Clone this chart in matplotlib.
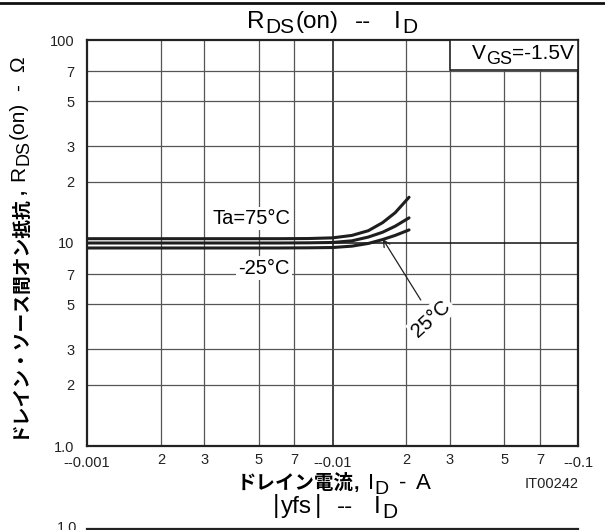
import matplotlib
matplotlib.use("Agg")
import matplotlib.pyplot as plt
from matplotlib.lines import Line2D
from matplotlib.patches import Rectangle
from matplotlib.ticker import FixedLocator, FixedFormatter

plt.rcParams['font.family'] = ['Liberation Sans', 'Noto Sans CJK JP', 'DejaVu Sans']

# ---- data ----
id_a = [0.001, 0.002, 0.004, 0.006, 0.008, 0.010, 0.012, 0.014, 0.016, 0.018, 0.0205]
r_75 = [10.5, 10.5, 10.5, 10.5, 10.52, 10.6, 10.9, 11.5, 12.6, 14.1, 16.8]
r_25 = [10.0, 10.0, 10.0, 10.0, 10.02, 10.06, 10.25, 10.7, 11.3, 12.1, 13.3]
r_m25 = [9.45, 9.45, 9.45, 9.45, 9.47, 9.5, 9.65, 9.95, 10.4, 10.9, 11.6]

x_major = [0.001, 0.01, 0.1]
x_major_labels = ['--0.001', '--0.01', '--0.1']
x_minor = [0.002, 0.003, 0.005, 0.007, 0.02, 0.03, 0.05, 0.07]
x_minor_labels = ['2', '3', '5', '7', '2', '3', '5', '7']
y_major = [1, 10, 100]
y_major_labels = ['1.0', '10', '100']
y_minor = [2, 3, 5, 7, 20, 30, 50, 70]
y_minor_labels = ['2', '3', '5', '7', '2', '3', '5', '7']

W, H = 605, 530
fig = plt.figure(figsize=(W / 100, H / 100), dpi=100)
L, R, T, B = 87, 578, 40, 446
ax = fig.add_axes([L / W, 1 - B / H, (R - L) / W, (B - T) / H])
ax.set_xscale('log')
ax.set_yscale('log')
ax.set_xlim(0.001, 0.1)
ax.set_ylim(1, 100)

ax.xaxis.set_major_locator(FixedLocator(x_major))
ax.xaxis.set_major_formatter(FixedFormatter(x_major_labels))
ax.xaxis.set_minor_locator(FixedLocator(x_minor))
ax.xaxis.set_minor_formatter(FixedFormatter(x_minor_labels))
ax.yaxis.set_major_locator(FixedLocator(y_major))
ax.yaxis.set_major_formatter(FixedFormatter(y_major_labels))
ax.yaxis.set_minor_locator(FixedLocator(y_minor))
ax.yaxis.set_minor_formatter(FixedFormatter(y_minor_labels))

ax.tick_params(which='both', length=0, labelsize=10.5, colors='#222222')
ax.tick_params(axis='x', which='major', pad=7)
ax.tick_params(axis='x', which='minor', pad=5)
ax.tick_params(axis='y', which='both', pad=9)

ax.grid(which='major', color='#111111', lw=1.1)
ax.grid(which='minor', color='#555555', lw=0.9)
ax.set_axisbelow(True)
for s in ax.spines.values():
    s.set_linewidth(1.6)
    s.set_color('#222222')

lc = '#1e1e1e'
for rv in (r_75, r_25, r_m25):
    ax.plot(id_a, rv, color=lc, lw=2.2, solid_capstyle='round', zorder=3)

bb = dict(boxstyle='square,pad=0.12', fc='white', ec='none')
ax.text(0.00466, 13.2, 'Ta=75°C', fontsize=14.5, ha='center', va='center', bbox=bb, zorder=4)
ax.text(0.00525, 7.5, '-25°C', fontsize=14.5, ha='center', va='center', bbox=bb, zorder=4)
ax.annotate('', xy=(0.0158, 10.75), xytext=(0.0232, 5.1),
            arrowprops=dict(arrowstyle='->', lw=0.9, color='#222222', mutation_scale=12), zorder=4)
ax.text(0.0253, 4.25, '25°C', fontsize=14.5, ha='center', va='center', rotation=42,
        bbox=bb, zorder=4)

fig.canvas.draw()
rend = fig.canvas.get_renderer()
JP = ['Noto Sans CJK JP', 'Liberation Sans']


def rich(x, y, pieces, align='center', rot=0, z=5):
    """pieces: (text, size, bold, jp, dy_px, gap_px). x,y in pixels from top-left; y = baseline."""
    arts = []
    lengths = []
    for (s, size, bold, jp, dy, gap) in pieces:
        kw = dict(fontsize=size, fontweight='bold' if bold else 'normal')
        if jp:
            kw['family'] = JP
        t = fig.text(0, 0, s, ha='left', va='baseline', rotation=rot,
                     rotation_mode='anchor', zorder=z, **kw)
        ext = t.get_window_extent(rend)
        lengths.append(ext.width if rot == 0 else ext.height)
        arts.append(t)
    total = sum(lengths) + sum(p[5] for p in pieces)
    if align == 'center':
        start = -total / 2
    elif align == 'right':
        start = -total
    else:
        start = 0
    cur = start
    for t, ln, p in zip(arts, lengths, pieces):
        cur += p[5]
        if rot == 0:
            t.set_position(((x + cur) / W, 1 - (y + p[4]) / H))
        else:
            t.set_position(((x + p[4]) / W, 1 - (y - cur) / H))
        cur += ln
    return total


# title
rich(332, 28, [('R', 17.5, False, False, 0, 0), ('DS', 15, False, False, 5, 1),
               ('(on)', 17.5, False, False, 0, 1), ('--', 17.5, False, False, 0, 16),
               ('I', 17.5, False, False, 0, 23), ('D', 15, False, False, 5, 1)])

# VGS box
box_l = 450
ax.add_patch(Rectangle(((box_l - L) / (R - L), (B - 70) / (B - T)), (R - box_l) / (R - L),
                       (70 - T) / (B - T), transform=ax.transAxes,
                       fc='white', ec='#222222', lw=1.2, zorder=4, clip_on=False))
rich(574, 59, [('V', 15, False, False, 0, 0), ('GS', 13, False, False, 5, 0),
               ('=-1.5V', 15, False, False, 0, 0)], align='right', z=6)

# x label
rich(334, 489, [('ドレイン電流', 14, True, True, 0, 0), (',', 14, True, False, 0, 0),
                ('I', 16, False, False, 0, 8), ('D', 14, False, False, 5, 1),
                ('-', 16, False, False, 0, 10), ('A', 16, False, False, 0, 10)])
fig.text(552 / W, 1 - 484 / H, 'IT00242', fontsize=10.5, ha='center', va='center', color='#222222')

# y label (rotated)
rich(24, 247, [('ドレイン・ソース間オン抵抗', 13.5, True, True, 0, 0), (',', 13.5, True, False, 0, 0),
               ('R', 15, False, False, 0, 8), ('DS', 13, False, False, 4, 1),
               ('(on)', 15, False, False, 0, 1), ('-', 15, False, False, 0, 11),
               ('Ω', 15, False, False, 0, 12)], rot=90)

# top border line
fig.add_artist(Line2D([0, 1], [1 - 3 / H, 1 - 3 / H], color='#111111', lw=2))

# beginning of the next chart
rich(335, 513, [('|', 18, False, False, 0, 0), ('yfs', 17.5, False, False, 0, 2),
                ('|', 18, False, False, 0, 2), ('--', 17.5, False, False, 0, 16),
                ('I', 17.5, False, False, 0, 21), ('D', 15, False, False, 5, 1)])
fig.text(77 / W, 1 - 528 / H, '1.0', fontsize=10.5, ha='right', va='center', color='#222222')
fig.add_artist(Line2D([L / W, R / W], [1 - 528.5 / H, 1 - 528.5 / H], color='#222222', lw=1.6))

fig.savefig('out.png', dpi=100)
